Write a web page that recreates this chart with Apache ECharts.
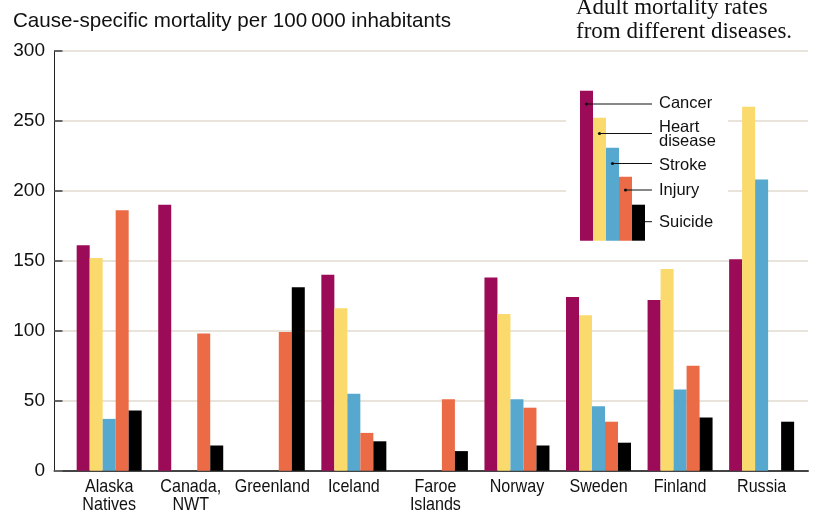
<!DOCTYPE html>
<html><head><meta charset="utf-8">
<script src="https://cdn.jsdelivr.net/npm/echarts@6/dist/echarts.min.js"></script>
<style>html,body{margin:0;padding:0;background:#fff}#c{width:816px;height:515px}</style>
</head><body><div id="c"></div>
<script>
const categories = ['Alaska\nNatives','Canada,\nNWT','Greenland','Iceland','Faroe\nIslands','Norway','Sweden','Finland','Russia'];
const cancer  = [161, 190, null, 140, null, 138, 124, 122, 151];
const heart   = [152, null, null, 116, null, 112, 111, 144, 260];
const stroke  = [37, null, null, 55, null, 51, 46, 58, 208];
const injury  = [186, 98, 99, 27, 51, 45, 35, 75, null];
const suicide = [43, 18, 131, 21, 14, 18, 20, 38, 35];
const seriesNames = ['Cancer','Heart disease','Stroke','Injury','Suicide'];
const legendLabels = ['Cancer','Heart\ndisease','Stroke','Injury','Suicide'];
const yTicks = [0, 50, 100, 150, 200, 250, 300];
const colors = ['#9C0B58','#FADA6D','#56A8CE','#EB6B47','#000000'];

const chart = echarts.init(document.getElementById('c'));
const sansFont = '"Liberation Sans", Arial, sans-serif';
const serifFont = '"Liberation Serif", "Times New Roman", serif';

const values = [cancer, heart, stroke, injury, suicide];
const series = values.map((d, i) => ({
  name: seriesNames[i], type: 'bar', xAxisIndex: 1, yAxisIndex: 1,
  data: d, barWidth: 13, barGap: '0%', itemStyle: { color: colors[i] }, silent: true
}));

// legend key (graphic)
const legBarX = 580, legBarW = 13, legBottom = 240.7;
const legTops = [90.7, 117.7, 147.7, 176.7, 204.7];
const legLineY = [104, 133.5, 163.5, 190, 221.7];
const legTextY = [103, 134.5, 165, 190, 222.5];
const g = [];
g.push({ type: 'rect', shape: { x: 566, y: 78, width: 162, height: 170 }, style: { fill: '#fff' }, z: 1 });
legTops.forEach((t, i) => {
  const x = legBarX + i * legBarW;
  g.push({ type: 'rect', shape: { x: x, y: t, width: legBarW, height: legBottom - t }, style: { fill: colors[i] }, z: 2 });
  if (i < 4) {
    const dx = x + 6.5;
    g.push({ type: 'line', shape: { x1: dx, y1: legLineY[i], x2: 652, y2: legLineY[i] }, style: { stroke: '#111', lineWidth: 1 }, z: 3 });
    g.push({ type: 'circle', shape: { cx: dx, cy: legLineY[i], r: 1.6 }, style: { fill: '#111' }, z: 3 });
  } else {
    g.push({ type: 'line', shape: { x1: 645, y1: legLineY[i], x2: 652, y2: legLineY[i] }, style: { stroke: '#111', lineWidth: 1 }, z: 3 });
  }
  g.push({ type: 'text', x: 659, y: legTextY[i], style: { text: legendLabels[i], fill: '#111', font: '16.5px ' + sansFont, textVerticalAlign: 'middle', lineHeight: 13.5 }, z: 3 });
});
g.push({ type: 'text', x: 13, y: 21.5, style: { text: 'Cause-specific mortality per 100\u2009000 inhabitants', fill: '#111', font: '20.6px ' + sansFont, textVerticalAlign: 'middle' }, z: 3 });
g.push({ type: 'text', x: 576, y: 20, style: { text: 'Adult mortality rates\nfrom different diseases.', fill: '#111', font: '23px ' + serifFont, textVerticalAlign: 'middle', lineHeight: 23.5 }, z: 3 });

chart.setOption({
  animation: false,
  backgroundColor: '#fff',
  grid: [
    { left: 54.5, right: 8, top: 50.7, bottom: 44.3 },
    { left: 68.4, right: 13.6, top: 50.7, bottom: 44.3 }
  ],
  xAxis: [
    { type: 'value', gridIndex: 0, min: 0, max: 1, show: true,
      axisLine: { show: true, onZero: false, lineStyle: { color: '#444', width: 2 } },
      axisTick: { show: false }, axisLabel: { show: false }, splitLine: { show: false } },
    { type: 'category', gridIndex: 1, data: categories,
      axisLine: { show: false }, axisTick: { show: false },
      axisLabel: { show: false } }
  ],
  yAxis: [
    { type: 'value', gridIndex: 0, min: yTicks[0], max: yTicks[yTicks.length - 1], interval: 50,
      axisLine: { show: true, lineStyle: { color: '#222', width: 1 } },
      axisTick: { show: true, inside: true, length: 8, lineStyle: { color: '#666', width: 2 } },
      axisLabel: { color: '#111', fontFamily: sansFont, fontSize: 19, margin: 9.5 },
      splitLine: { show: true, lineStyle: { color: '#E8E4DC', width: 2 } } },
    { type: 'value', gridIndex: 1, min: yTicks[0], max: yTicks[yTicks.length - 1], interval: 50, show: false }
  ],
  series: series,
  graphic: g
});

// category labels: condensed look via horizontal scaling, positioned by the category axis
const labelY = chart.convertToPixel({ yAxisIndex: 1 }, 0) + 7.2;
const labelEls = categories.map((c, i) => {
  const px = chart.convertToPixel({ xAxisIndex: 1 }, i);
  return { type: 'text', x: px, y: labelY, scaleX: 0.87, scaleY: 1,
    style: { text: c, fill: '#111', font: '18.5px ' + sansFont, textAlign: 'center', textVerticalAlign: 'top', lineHeight: 18.3 }, z: 3 };
});
chart.setOption({ graphic: g.concat(labelEls) });
</script></body></html>
